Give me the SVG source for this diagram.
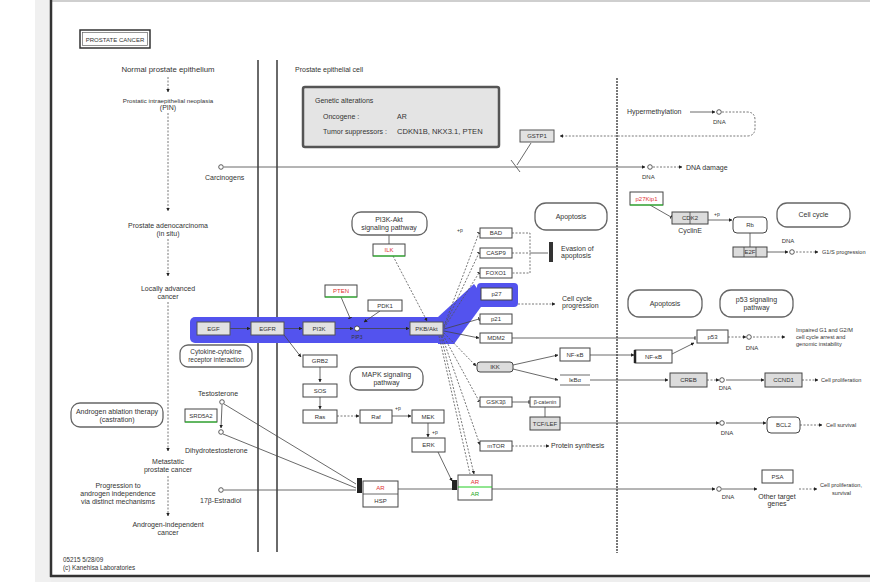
<svg xmlns="http://www.w3.org/2000/svg" width="870" height="582" viewBox="0 0 870 582">
<defs>
<style>
text{font-family:"Liberation Sans",Arial,sans-serif;font-size:7px;fill:#333}
.n text{font-size:6px}
.c{text-anchor:middle}
.g{fill:#fff;stroke:#444;stroke-width:1}
.gg{fill:#dcdcdc;stroke:#444;stroke-width:1}
.hb{fill:#e2e2e2;stroke:#555;stroke-width:1}
.rb{fill:#fff;stroke:#666;stroke-width:1.3}
.l{fill:none;stroke:#444;stroke-width:0.8}
.d{fill:none;stroke:#555;stroke-width:0.8;stroke-dasharray:2 1.5}
.m{fill:none;stroke:#6a6a6a;stroke-width:2}
.red{fill:#e03030}
.grn{fill:#2a2}
.cp{fill:#fff;stroke:#333;stroke-width:0.8}
.hl{fill:#5353ee}
.sm{font-size:5.6px}
</style>
<marker id="a" viewBox="0 0 10 10" refX="9" refY="5" markerWidth="4.5" markerHeight="4.5" orient="auto"><path d="M0,0L10,5L0,10z" fill="#222"/></marker>
<marker id="t" viewBox="0 0 10 10" refX="8" refY="5" markerWidth="4.5" markerHeight="4.5" orient="auto"><path d="M8,0V10" stroke="#222" stroke-width="3"/></marker>
</defs>

<!-- frame -->
<rect x="0" y="0" width="870" height="582" fill="#fff"/>
<rect x="35" y="0" width="16" height="582" fill="#f0f0f0"/>
<rect x="51" y="577" width="819" height="5" fill="#eeeeee"/>
<rect x="51" y="0" width="819" height="2" fill="#cfcfcf"/>
<line x1="51" y1="0" x2="51" y2="577" stroke="#333" stroke-width="2.5"/>
<line x1="50" y1="576" x2="870" y2="576" stroke="#333" stroke-width="2.5"/>

<!-- title -->
<g id="title">
<rect x="80" y="30" width="70" height="18" fill="#fff" stroke="#333" stroke-width="1.5"/>
<rect x="82.5" y="32.5" width="65" height="13" fill="none" stroke="#666" stroke-width="0.7"/>
<text class="c" x="115" y="41.5" style="font-size:6px">PROSTATE CANCER</text>
</g>

<!-- left column stages -->
<g id="stages">
<text class="c" x="168" y="72" style="font-size:7.8px">Normal prostate epithelium</text>
<text class="c" x="168" y="103" style="font-size:6.2px">Prostatic intraepithelial neoplasia</text>
<text class="c" x="168" y="110">(PIN)</text>
<text class="c" x="168" y="228">Prostate adenocarcinoma</text>
<text class="c" x="168" y="236">(in situ)</text>
<text class="c" x="168" y="291">Locally advanced</text>
<text class="c" x="168" y="299">cancer</text>
<text class="c" x="168" y="464">Metastatic</text>
<text class="c" x="168" y="472">prostate cancer</text>
<text class="c" x="118" y="488">Progression to</text>
<text class="c" x="118" y="496">androgen independence</text>
<text class="c" x="118" y="504">via distinct mechanisms</text>
<text class="c" x="168" y="527">Androgen-independent</text>
<text class="c" x="168" y="535">cancer</text>
</g>
<g id="therapy">
<rect class="rb" x="71" y="403" width="92" height="24" rx="9"/>
<text class="c" x="117" y="414">Androgen ablation therapy</text>
<text class="c" x="117" y="422">(castration)</text>
</g>
<g id="footnote">
<text x="63" y="562" style="font-size:6.3px">05215 5/28/09</text>
<text x="63" y="570" style="font-size:6.3px">(c) Kanehisa Laboratories</text>
</g>

<!-- membranes -->
<g id="membranes">
<line class="m" x1="258" y1="60" x2="258" y2="552"/>
<line class="m" x1="277" y1="60" x2="277" y2="552"/>
<line x1="617" y1="78" x2="617" y2="553" stroke="#777" stroke-width="2" stroke-dasharray="2 1"/>
<text x="295" y="72">Prostate epithelial cell</text>
</g>

<!-- genetic alterations box -->
<g id="alterations">
<rect x="303" y="87" width="196" height="60" rx="2" fill="#e4e4e4" stroke="#555" stroke-width="2.5"/>
<text x="315" y="103">Genetic alterations</text>
<text x="323" y="119">Oncogene :</text>
<text x="397" y="119">AR</text>
<text x="323" y="134">Tumor suppressors :</text>
<text x="397" y="134" style="font-size:7.6px">CDKN1B, NKX3.1, PTEN</text>
</g>

<!-- highlight -->
<g id="highlight">
<rect class="hl" x="190" y="317" width="257" height="26" rx="5"/>
<polygon class="hl" points="438,317 474,284 486,300 454,344 438,344"/>
<rect class="hl" x="477" y="283" width="41" height="24" rx="4"/>
</g>

<!-- connectors -->
<g id="connectors">
<!-- left column -->
<line class="d" x1="168" y1="77" x2="168" y2="92" marker-end="url(#a)"/>
<line class="d" x1="168" y1="113" x2="168" y2="211" marker-end="url(#a)"/>
<line class="d" x1="168" y1="239" x2="168" y2="276" marker-end="url(#a)"/>
<line class="d" x1="168" y1="302" x2="168" y2="451" marker-end="url(#a)"/>
<line class="d" x1="168" y1="476" x2="168" y2="516" marker-end="url(#a)"/>
<!-- carcinogens / GSTP1 -->
<circle class="cp" cx="221" cy="167" r="2.3"/>
<line class="l" x1="224" y1="167" x2="645" y2="167" marker-end="url(#a)"/>
<circle class="cp" cx="650" cy="167" r="2.3"/>
<line class="d" x1="653" y1="167" x2="682" y2="167" marker-end="url(#a)"/>
<line class="l" x1="531" y1="143" x2="517" y2="165"/>
<line class="l" x1="511" y1="160" x2="520" y2="172"/>
<line class="l" x1="690" y1="112" x2="715" y2="112" marker-end="url(#a)"/>
<circle class="cp" cx="719" cy="112" r="2.3"/>
<path class="d" d="M722,112 H747 Q755,112 755,120 V128 Q755,136 747,136 H560" marker-end="url(#a)"/>
<!-- chain -->
<line class="l" x1="230" y1="328.5" x2="250" y2="328.5" marker-end="url(#a)"/>
<line class="l" x1="284" y1="328.5" x2="302" y2="328.5" marker-end="url(#a)"/>
<line class="l" x1="335" y1="328.5" x2="353" y2="328.5" marker-end="url(#a)"/>
<line class="l" x1="360" y1="328.5" x2="409" y2="328.5" marker-end="url(#a)"/>
<line class="l" x1="341" y1="297" x2="350" y2="318" marker-end="url(#t)"/>
<line class="l" x1="380" y1="311" x2="364" y2="322" marker-end="url(#a)"/>
<line class="l" x1="389" y1="235" x2="389" y2="244"/>
<line class="d" x1="393" y1="256" x2="427" y2="321" marker-end="url(#a)"/>
<!-- PKB fan -->
<line class="d" x1="444" y1="326" x2="479" y2="233" marker-end="url(#t)"/>
<line class="d" x1="444" y1="327" x2="479" y2="253" marker-end="url(#t)"/>
<line class="d" x1="444" y1="328" x2="479" y2="273" marker-end="url(#t)"/>
<line class="l" x1="444" y1="329" x2="479" y2="319" marker-end="url(#t)"/>
<line class="l" x1="444" y1="331" x2="479" y2="338" marker-end="url(#a)"/>
<line class="d" x1="444" y1="333" x2="476" y2="366" marker-end="url(#a)"/>
<line class="d" x1="443" y1="335" x2="479" y2="401" marker-end="url(#t)"/>
<line class="d" x1="442" y1="336" x2="480" y2="445" marker-end="url(#a)"/>
<line class="d" x1="441" y1="336" x2="474" y2="474" marker-end="url(#a)"/>
<line class="d" x1="439" y1="336" x2="470" y2="474"/>
<!-- apoptosis bracket -->
<path class="d" d="M512,233 H530 V273 H512 M512,253 H530"/>
<line class="l" x1="530" y1="253" x2="548" y2="253"/>
<rect x="549" y="242" width="4" height="20" fill="#333"/>
<line class="d" x1="518" y1="304" x2="555" y2="304" marker-end="url(#a)"/>
<!-- MDM2 / p53 -->
<line class="l" x1="512" y1="338" x2="695" y2="338" marker-end="url(#t)"/>
<line class="l" x1="672" y1="354" x2="694" y2="343" marker-end="url(#a)"/>
<line class="d" x1="728" y1="337" x2="746" y2="337" marker-end="url(#a)"/>
<line class="d" x1="753" y1="337" x2="785" y2="337" marker-end="url(#a)"/>
<!-- IKK / NF-kB -->
<line class="l" x1="513" y1="365" x2="558" y2="355" marker-end="url(#a)"/>
<line class="l" x1="513" y1="369" x2="558" y2="380" marker-end="url(#a)"/>
<line class="l" x1="590" y1="355" x2="634" y2="355" marker-end="url(#a)"/>
<line class="l" x1="590" y1="380" x2="668" y2="380" marker-end="url(#a)"/>
<line class="d" x1="707" y1="380" x2="719" y2="380" marker-end="url(#a)"/>
<line class="l" x1="726" y1="380" x2="764" y2="380" marker-end="url(#a)"/>
<line class="d" x1="802" y1="380" x2="818" y2="380" marker-end="url(#a)"/>
<!-- GSK3 / TCF -->
<line class="l" x1="512" y1="402" x2="529" y2="402" marker-end="url(#t)"/>
<line class="l" x1="545" y1="407" x2="545" y2="417"/>
<line class="l" x1="560" y1="423" x2="719" y2="423" marker-end="url(#a)"/>
<line class="l" x1="726" y1="423" x2="766" y2="423" marker-end="url(#a)"/>
<line class="d" x1="800" y1="425" x2="822" y2="425" marker-end="url(#a)"/>
<line class="d" x1="512" y1="446" x2="549" y2="446" marker-end="url(#a)"/>
<!-- MAPK -->
<line class="l" x1="284" y1="335" x2="301" y2="357" marker-end="url(#a)"/>
<line class="l" x1="320" y1="367" x2="320" y2="382" marker-end="url(#a)"/>
<line class="l" x1="320" y1="397" x2="320" y2="409" marker-end="url(#a)"/>
<line class="d" x1="337" y1="416" x2="359" y2="416" marker-end="url(#a)"/>
<line class="l" x1="392" y1="416" x2="411" y2="416" marker-end="url(#a)"/>
<line class="l" x1="428" y1="423" x2="428" y2="437" marker-end="url(#a)"/>
<line class="l" x1="438" y1="452" x2="452" y2="481" marker-end="url(#a)"/>
<!-- androgen -->
<line class="l" x1="222" y1="405" x2="221" y2="428" marker-end="url(#a)"/>
<line class="l" x1="224" y1="404" x2="356" y2="484"/>
<line class="l" x1="223" y1="434" x2="356" y2="488"/>
<line class="l" x1="224" y1="490" x2="356" y2="490"/>
<line class="l" x1="398" y1="489" x2="452" y2="489"/>
<line class="l" x1="492" y1="489" x2="715" y2="489" marker-end="url(#a)"/>
<line class="l" x1="722" y1="489" x2="757" y2="489" marker-end="url(#a)"/>
<line class="d" x1="799" y1="489" x2="817" y2="489" marker-end="url(#a)"/>
<!-- cell cycle top right -->
<line class="l" x1="650" y1="205" x2="671" y2="217" marker-end="url(#t)"/>
<line class="l" x1="708" y1="220" x2="732" y2="220" marker-end="url(#a)"/>
<line class="l" x1="750" y1="233" x2="750" y2="247"/>
<line class="l" x1="767" y1="252" x2="788" y2="252" marker-end="url(#a)"/>
<line class="d" x1="796" y1="252" x2="818" y2="252" marker-end="url(#a)"/>
<!-- circles (compounds / DNA) -->
<circle class="cp" cx="357" cy="328.5" r="2.5"/>
<circle class="cp" cx="722" cy="380" r="2.3"/>
<circle class="cp" cx="722" cy="423" r="2.3"/>
<circle class="cp" cx="749" cy="337" r="2.3"/>
<circle class="cp" cx="719" cy="489" r="2.3"/>
<circle class="cp" cx="792" cy="252" r="2.3"/>
<circle class="cp" cx="222" cy="402" r="2.3"/>
<circle class="cp" cx="221" cy="432" r="2.3"/>
<circle class="cp" cx="221" cy="490" r="2.3"/>
<!-- small labels -->
<text x="457" y="232" style="font-size:5px">+p</text>
<text x="395" y="410" style="font-size:5px">+p</text>
<text x="432" y="434" style="font-size:5px">+p</text>
<text x="714" y="216" style="font-size:5px">+p</text>
<text x="205" y="180">Carcinogens</text>
<text x="642" y="179" style="font-size:6px">DNA</text>
<text x="686" y="170">DNA damage</text>
<text x="627" y="114">Hypermethylation</text>
<text x="713" y="124" style="font-size:6px">DNA</text>
<text class="c" x="357" y="339" style="font-size:5px">PIP3</text>
<text x="561" y="251">Evasion of</text>
<text x="561" y="258">apoptosis</text>
<text x="562" y="301">Cell cycle</text>
<text x="562" y="308">progression</text>
<text class="c" x="752" y="350" style="font-size:6px">DNA</text>
<text x="796" y="332" class="sm">Impaired G1 and G2/M</text>
<text x="796" y="339" class="sm">cell cycle arrest and</text>
<text x="796" y="346" class="sm">genomic instability</text>
<text class="c" x="725" y="390" style="font-size:6px">DNA</text>
<text x="821" y="382" class="sm">Cell proliferation</text>
<text class="c" x="727" y="435" style="font-size:6px">DNA</text>
<text x="826" y="427" class="sm">Cell survival</text>
<text x="551" y="448">Protein synthesis</text>
<text class="c" x="728" y="499" style="font-size:6px">DNA</text>
<text class="c" x="777" y="499">Other target</text>
<text class="c" x="777" y="506">genes</text>
<text x="820" y="487" class="sm">Cell proliferation,</text>
<text x="832" y="495" class="sm">survival</text>
<text x="198" y="396">Testosterone</text>
<text x="185" y="453">Dihydrotestosterone</text>
<text x="200" y="503">17β-Estradiol</text>
<text class="c" x="788" y="243" style="font-size:6px">DNA</text>
<text x="822" y="254" class="sm">G1/S progression</text>
<text class="c" x="690" y="233">CyclinE</text>
</g>

<!-- nodes -->
<g id="n-GSTP1" class="n"><rect class="hb" x="520" y="130" width="34" height="12"/><text class="c" x="537" y="138">GSTP1</text></g>
<g id="n-PI3K-Akt-path"><rect class="rb" x="352" y="212" width="75" height="23" rx="9"/><text class="c" x="389" y="222">PI3K-Akt</text><text class="c" x="389" y="230">signaling pathway</text></g>
<g id="n-ILK" class="n"><rect class="g" x="373" y="244" width="32" height="12"/><line x1="373" y1="256" x2="405" y2="256" stroke="#2c2" stroke-width="1"/><text class="c red" x="389" y="252">ILK</text></g>
<g id="n-PTEN" class="n"><rect class="g" x="325" y="285" width="32" height="12"/><line x1="325" y1="297" x2="357" y2="297" stroke="#2c2" stroke-width="1"/><text class="c red" x="341" y="293">PTEN</text></g>
<g id="n-PDK1" class="n"><rect class="g" x="368" y="300" width="34" height="11"/><text class="c" x="385" y="307.5">PDK1</text></g>
<g id="n-EGF" class="n"><rect class="hb" x="197" y="322" width="33" height="13"/><text class="c" x="213.5" y="330.5">EGF</text></g>
<g id="n-EGFR" class="n"><rect class="hb" x="251" y="322" width="33" height="13"/><text class="c" x="267.5" y="330.5">EGFR</text></g>
<g id="n-PI3K" class="n"><rect class="hb" x="303" y="322" width="32" height="13"/><text class="c" x="319" y="330.5">PI3K</text></g>
<g id="n-PKB" class="n"><rect class="hb" x="410" y="322" width="33" height="13"/><text class="c" x="426.5" y="330.5">PKB/Akt</text></g>
<g id="n-cytokine"><rect class="rb" x="180" y="345" width="72" height="22" rx="8"/><text class="c" x="216" y="354" style="font-size:6.5px">Cytokine-cytokine</text><text class="c" x="216" y="362" style="font-size:6.5px">receptor interaction</text></g>
<g id="n-BAD" class="n"><rect class="g" x="480" y="228" width="32" height="10"/><text class="c" x="496" y="235">BAD</text></g>
<g id="n-CASP9" class="n"><rect class="g" x="480" y="248" width="32" height="10"/><text class="c" x="496" y="255">CASP9</text></g>
<g id="n-FOXO1" class="n"><rect class="g" x="480" y="268" width="32" height="10"/><text class="c" x="496" y="275">FOXO1</text></g>
<g id="n-p27" class="n"><rect class="g" x="481" y="288" width="31" height="12"/><text class="c" x="496.5" y="296">p27</text></g>
<g id="n-p21" class="n"><rect class="g" x="480" y="314" width="32" height="10"/><text class="c" x="496" y="321">p21</text></g>
<g id="n-MDM2" class="n"><rect class="g" x="480" y="333" width="32" height="10"/><text class="c" x="496" y="340">MDM2</text></g>
<g id="n-IKK" class="n"><rect class="gg" x="477" y="362" width="36" height="10" rx="3"/><text class="c" x="495" y="369">IKK</text></g>
<g id="n-GSK3" class="n"><rect class="g" x="480" y="397" width="32" height="10"/><text class="c" x="496" y="404">GSK3β</text></g>
<g id="n-mTOR" class="n"><rect class="g" x="480" y="441" width="32" height="10"/><text class="c" x="496" y="448">mTOR</text></g>
<g id="n-apoptosis1"><rect class="rb" x="535" y="203" width="72" height="27" rx="11"/><text class="c" x="571" y="219">Apoptosis</text></g>
<g id="n-NFkB" class="n"><rect class="g" x="560" y="348" width="30" height="13"/><text class="c" x="575" y="356.5">NF-κB</text></g>
<g id="n-IkBa" class="n"><line class="l" x1="560" y1="375" x2="590" y2="375"/><line class="l" x1="560" y1="385" x2="590" y2="385"/><text class="c" x="575" y="382">IκBα</text></g>
<g id="n-bcat" class="n"><rect class="g" x="530" y="397" width="30" height="10"/><text class="c" x="545" y="404" style="font-size:5.5px">β-catenin</text></g>
<g id="n-TCF" class="n"><rect class="gg" x="530" y="417" width="30" height="13"/><text class="c" x="545" y="425.5">TCF/LEF</text></g>
<g id="n-GRB2" class="n"><rect class="g" x="303" y="355" width="34" height="12"/><text class="c" x="320" y="363">GRB2</text></g>
<g id="n-SOS" class="n"><rect class="g" x="303" y="384" width="34" height="13"/><text class="c" x="320" y="392.5">SOS</text></g>
<g id="n-Ras" class="n"><rect class="g" x="303" y="410" width="34" height="13"/><text class="c" x="320" y="418.5">Ras</text></g>
<g id="n-Raf" class="n"><rect class="g" x="360" y="410" width="32" height="13"/><text class="c" x="376" y="418.5">Raf</text></g>
<g id="n-MEK" class="n"><rect class="g" x="412" y="410" width="32" height="13"/><text class="c" x="428" y="418.5">MEK</text></g>
<g id="n-ERK" class="n"><rect class="g" x="412" y="438" width="33" height="14"/><text class="c" x="428.5" y="447">ERK</text></g>
<g id="n-MAPK-path"><rect class="rb" x="350" y="367" width="73" height="23" rx="9"/><text class="c" x="386.5" y="377">MAPK signaling</text><text class="c" x="386.5" y="385">pathway</text></g>
<g id="n-SRD5A2" class="n"><rect class="g" x="185" y="409" width="32" height="13"/><line x1="185" y1="422" x2="217" y2="422" stroke="#2c2" stroke-width="1"/><text class="c" x="201" y="417.5">SRD5A2</text></g>
<g id="n-ARc" class="n"><rect x="357" y="478" width="5" height="15" fill="#222"/><rect class="g" x="363" y="481" width="35" height="26"/><line class="l" x1="363" y1="494" x2="398" y2="494"/><text class="c red" x="380.5" y="490">AR</text><text class="c" x="380.5" y="503">HSP</text></g>
<g id="n-AR" class="n"><rect x="452" y="480" width="5" height="10" fill="#222"/><rect class="g" x="458" y="475" width="34" height="25"/><line x1="458" y1="487" x2="492" y2="487" stroke="#2c2" stroke-width="1"/><text class="c red" x="475" y="484">AR</text><text class="c grn" x="475" y="496">AR</text></g>
<g id="n-apoptosis2"><rect class="rb" x="628" y="290" width="74" height="27" rx="11"/><text class="c" x="665" y="306">Apoptosis</text></g>
<g id="n-p53path"><rect class="rb" x="720" y="290" width="73" height="27" rx="11"/><text class="c" x="756.5" y="302">p53 signaling</text><text class="c" x="756.5" y="310">pathway</text></g>
<g id="n-p53" class="n"><rect class="g" x="697" y="330" width="31" height="13"/><text class="c" x="712.5" y="338.5">p53</text></g>
<g id="n-NFkBn" class="n"><rect class="g" x="635" y="350" width="37" height="13"/><line x1="635" y1="350" x2="635" y2="363" stroke="#222" stroke-width="2.5"/><text class="c" x="653.5" y="358.5">NF-κB</text></g>
<g id="n-CREB" class="n"><rect class="gg" x="670" y="373" width="37" height="14"/><text class="c" x="688.5" y="382">CREB</text></g>
<g id="n-CCND1" class="n"><rect class="gg" x="765" y="373" width="37" height="14"/><text class="c" x="783.5" y="382">CCND1</text></g>
<g id="n-BCL2" class="n"><rect class="g" x="767" y="417" width="33" height="16" rx="4"/><text class="c" x="783.5" y="427">BCL2</text></g>
<g id="n-PSA" class="n"><rect class="g" x="762" y="470" width="31" height="13"/><text class="c" x="777.5" y="478.5">PSA</text></g>
<g id="n-p27n" class="n"><rect class="g" x="630" y="192" width="33" height="13"/><line x1="630" y1="205" x2="663" y2="205" stroke="#2c2" stroke-width="1"/><text class="c red" x="646.5" y="200.5">p27Kip1</text></g>
<g id="n-CDK2" class="n"><rect class="gg" x="672" y="212" width="36" height="12"/><line class="l" x1="690" y1="212" x2="690" y2="224"/><text class="c" x="690" y="220">CDK2</text></g>
<g id="n-Rb" class="n"><rect class="g" x="733" y="217" width="34" height="16" rx="4"/><text class="c" x="750" y="227">Rb</text></g>
<g id="n-E2F" class="n"><rect class="gg" x="733" y="247" width="34" height="10"/><line class="l" x1="744" y1="247" x2="744" y2="257"/><line class="l" x1="756" y1="247" x2="756" y2="257"/><text class="c" x="750" y="254">E2F</text></g>
<g id="n-cellcycle"><rect class="rb" x="777" y="203" width="73" height="24" rx="10"/><text class="c" x="813.5" y="217">Cell cycle</text></g>
</svg>
